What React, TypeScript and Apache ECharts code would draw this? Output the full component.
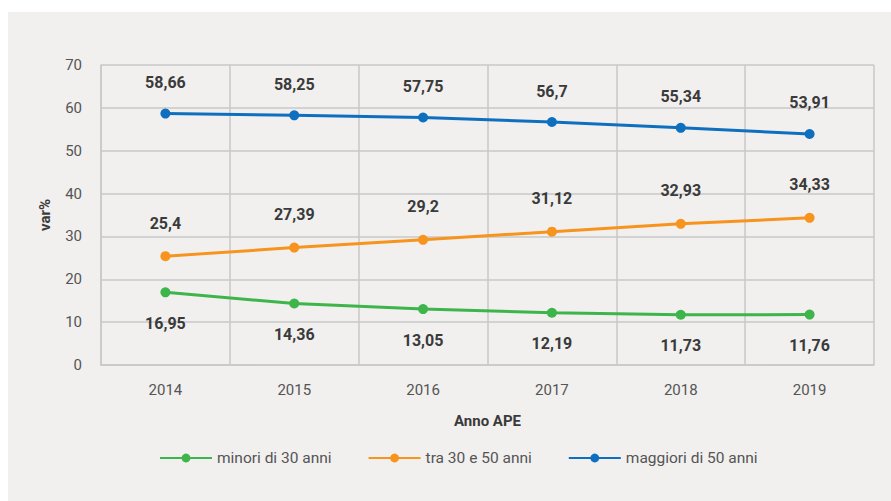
import React, { useEffect, useRef } from "react";
import * as echarts from "echarts";

const categories = ["2014", "2015", "2016", "2017", "2018", "2019"];
const seriesNames = ["minori di 30 anni", "tra 30 e 50 anni", "maggiori di 50 anni"];
const under30 = [16.95, 14.36, 13.05, 12.19, 11.73, 11.76];
const between30and50 = [25.4, 27.39, 29.2, 31.12, 32.93, 34.33];
const over50 = [58.66, 58.25, 57.75, 56.7, 55.34, 53.91];
const colors = ["#3DB54A", "#F7941D", "#0F6FBF"];

const FONT = "Roboto, 'Noto Sans', sans-serif";

export default function App() {
  const ref = useRef<HTMLDivElement>(null);
  useEffect(() => {
    if (!ref.current) return;
    const chart = echarts.init(ref.current, null, { renderer: "svg" });
    const fmt = (p: any) => String(p.value).replace(".", ",");
    const mk = (name: string, data: number[], color: string, pos: "top" | "bottom", dist: number) => ({
      name,
      type: "line",
      data,
      symbol: "circle",
      symbolSize: 10,
      color,
      lineStyle: { width: 3, color },
      itemStyle: { color },
      label: {
        show: true,
        position: pos,
        distance: dist,
        formatter: fmt,
        fontFamily: FONT,
        fontWeight: "bold",
        fontSize: 16,
        color: "#3a3a3a",
      },
    });
    chart.setOption({
      animation: false,
      backgroundColor: "#f1f0ef",
      textStyle: { fontFamily: FONT },
      grid: { left: 93, right: 17, top: 53, bottom: 136, containLabel: false },
      legend: {
        bottom: 30,
        left: 146,
        itemWidth: 52,
        itemHeight: 11,
        itemGap: 36,
        textStyle: { fontFamily: FONT, fontSize: 15.5, color: "#555" },
        data: seriesNames,
      },
      xAxis: {
        type: "category",
        data: categories,
        boundaryGap: true,
        name: "Anno APE",
        nameLocation: "middle",
        nameGap: 48,
        nameTextStyle: { fontFamily: FONT, fontWeight: "bold", fontSize: 15, color: "#3a3a3a" },
        axisLine: { show: true, lineStyle: { color: "#c8c8c8", width: 1.5 } },
        axisTick: { show: false },
        axisLabel: { fontFamily: FONT, fontSize: 15, color: "#555", margin: 17 },
        splitLine: { show: true, lineStyle: { color: "#c8c8c8", width: 1.5 } },
      },
      yAxis: {
        type: "value",
        min: 0,
        max: 70,
        interval: 10,
        name: "var%",
        nameLocation: "middle",
        nameGap: 49,
        nameRotate: 90,
        nameTextStyle: { fontFamily: FONT, fontWeight: "bold", fontSize: 15, color: "#3a3a3a" },
        axisLine: { show: true, lineStyle: { color: "#c8c8c8", width: 1.5 } },
        axisTick: { show: false },
        axisLabel: { fontFamily: FONT, fontSize: 15, color: "#555", margin: 19 },
        splitLine: { show: true, lineStyle: { color: "#c8c8c8", width: 1.5 } },
      },
      series: [
        mk(seriesNames[0], under30, colors[0], "bottom", 18),
        mk(seriesNames[1], between30and50, colors[1], "top", 20),
        mk(seriesNames[2], over50, colors[2], "top", 18),
      ],
    });
    return () => chart.dispose();
  }, []);
  return (
    <div style={{ position: "fixed", left: 0, top: 0, width: 891, height: 501, background: "#fff" }}>
      <div ref={ref} style={{ position: "absolute", left: 8, top: 12, width: 883, height: 489 }} />
    </div>
  );
}
